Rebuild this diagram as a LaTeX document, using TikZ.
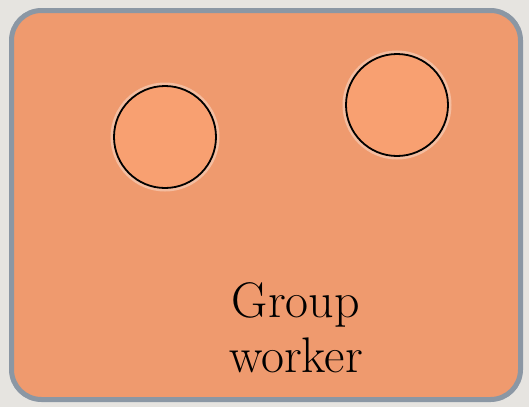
\documentclass[tikz,border=0pt]{standalone}
\usepackage{xcolor}
\definecolor{bgc}{HTML}{E6E4E0}
\definecolor{framec}{HTML}{8B97A4}
\definecolor{fillc}{HTML}{EF9A6E}
\definecolor{circc}{HTML}{F8A071}
\tikzset{
  frame/.style={draw=framec, line width=5pt, fill=fillc, rounded corners=30pt},
  worker/.style={circle, draw=black, line width=1.8pt, fill=circc, minimum size=102pt, inner sep=0pt},
  glow/.style={circle, draw=white, draw opacity=0.35, line width=4pt, minimum size=105pt, inner sep=0pt},
  label/.style={font=\fontsize{50}{55}\selectfont, align=center, anchor=base, inner sep=0pt}
}
\begin{document}
\begin{tikzpicture}[x=1pt,y=-1pt]
\fill[bgc] (0,0) rectangle (529,407);
\useasboundingbox (0,0) rectangle (529,407);
\draw[frame] (11.5,10.5) rectangle (520.5,399.5);
\node[glow] at (165,137) {};
\node[glow] at (397,105) {};
\node[worker] (c1) at (165,137) {};
\node[worker] (c2) at (397,105) {};
\node[label] (lbl) at (296,372) {Group\\worker};
\end{tikzpicture}
\end{document}
